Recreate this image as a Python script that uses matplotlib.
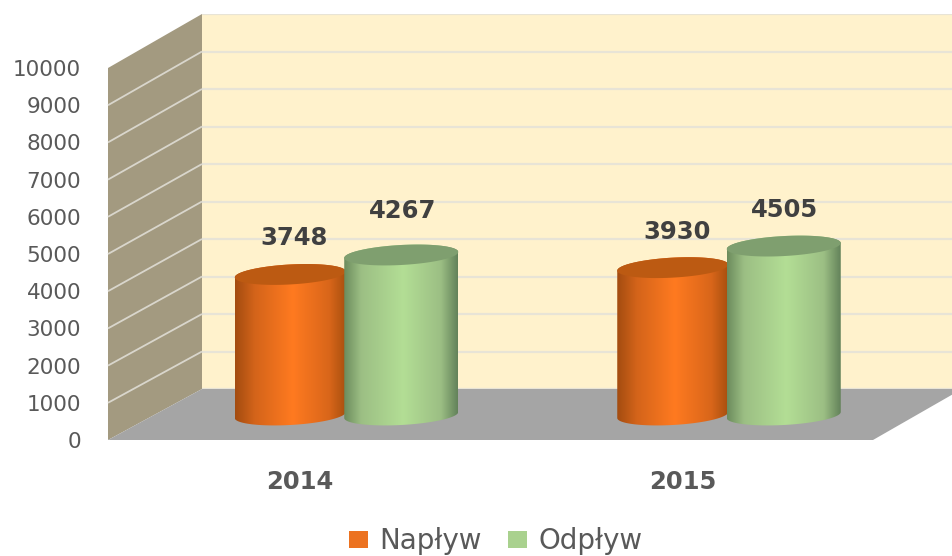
#!/bin/env python3
import numpy as np
import matplotlib
matplotlib.use("Agg")
import matplotlib.pyplot as plt
from matplotlib.colors import LinearSegmentedColormap
from matplotlib.patches import Patch, Polygon

W, H = 952, 556

categories = ["2014", "2015"]
series_names = ["Napływ", "Odpływ"]
naplyw = [3748, 3930]
odplyw = [4267, 4505]
ticks = list(range(0, 10001, 1000))
# label offset from the cylinder top, in px (hand placed in the original)
label_dy = [[36, 36], [44, 36]]
label_dx = [4, 1]

fig = plt.figure(figsize=(W / 100, H / 100), dpi=100, facecolor="white")


def px_axes(x0, x1, ytop, ybot):
    "axes given by its box in picture pixels"
    return fig.add_axes([x0 / W, 1 - ybot / H, (x1 - x0) / W, (ybot - ytop) / H])


# back wall
back = px_axes(202, 962, 14, 389)
back.set_facecolor("#FFF2CC")
back.set_xlim(0, 1)
back.set_ylim(0, 10000)
back.set_yticks(ticks)
back.set_xticks([])
back.tick_params(length=0, labelleft=False)
back.grid(axis="y", color="#E8E4D6", lw=1.6)
for s in back.spines.values():
    s.set_visible(False)

# side wall and floor, in pixels
room = fig.add_axes([0, 0, 1, 1])
room.set_xlim(0, W)
room.set_ylim(H, 0)
room.axis("off")
room.patch.set_alpha(0)
room.add_patch(Polygon([(108, 68), (202, 14), (202, 389), (108, 440)], fc="#A39A80", ec="none"))
room.add_patch(Polygon([(108, 440), (202, 389), (962, 389), (873, 440)], fc="#A5A5A5", ec="none"))
for t in ticks[1:-1]:
    yf = 440 - t / 10000 * 372
    yb = 389 - t / 10000 * 375
    room.plot([108, 202], [yf, yb], color="#D9D6CC", lw=1.3, solid_capstyle="butt")

# front plane: holds the value and category ticks
front = px_axes(109, 874, 68, 440)
front.patch.set_alpha(0)
front.set_xlim(-0.5, 1.5)
front.set_ylim(0, 10000)
front.set_yticks(ticks)
front.set_xticks([0, 1], categories)
front.tick_params(axis="y", length=0, pad=20, labelsize=15.5, labelcolor="#595959")
front.tick_params(axis="x", length=0, pad=21.5, labelsize=17.5, labelcolor="#595959")
for lab in front.get_xticklabels():
    lab.set_fontweight("bold")
for s in front.spines.values():
    s.set_visible(False)

# cylinders stand on a plane between the front and the back wall
ax = px_axes(155, 920, 40, 460)
ax.patch.set_alpha(0)
ax.axis("off")
XMIN, XMAX = -0.5, 1.5
SX = 765 / (XMAX - XMIN)  # px per category
SY = 375 / 10000  # px per unit of value
B = 10  # ellipse half height, px
RISE = 3  # ellipses rise to the right, px


def ellipse(cx, half, val, t):
    x = cx + half * np.cos(t)
    y = val + (B * np.sin(t) + RISE * np.cos(t)) / SY
    return x, y


def cylinder(cx, half, val, stops, top_color, z):
    t_low = np.linspace(np.pi, 2 * np.pi, 60)
    t_up = np.linspace(0, np.pi, 60)
    xb, yb = ellipse(cx, half, 0, t_low)
    xt, yt = ellipse(cx, half, val, t_up)
    body = Polygon(np.column_stack([np.r_[xb, xt], np.r_[yb, yt]]), transform=ax.transData, fc="none", ec="none")
    ax.add_patch(body)
    cmap = LinearSegmentedColormap.from_list("cyl", stops)
    grad = np.linspace(0, 1, 256)[None, :]
    im = ax.imshow(grad, cmap=cmap, aspect="auto", zorder=z, interpolation="bilinear",
        extent=[cx - half, cx + half, -1000, val + 1000])
    im.set_clip_path(body)
    t = np.linspace(0, 2 * np.pi, 120)
    xc, yc = ellipse(cx, half, val, t)
    ax.add_patch(Polygon(np.column_stack([xc, yc]), fc=top_color, ec="none", zorder=z + 0.1))


orange = [(0, "#A34C10"), (0.18, "#D4641A"), (0.52, "#FF7A20"), (0.85, "#D9661A"), (1, "#A9500F")]
green = [(0, "#6C8C5D"), (0.15, "#9CBF84"), (0.52, "#B3DE95"), (0.85, "#9CBF84"), (1, "#63825A")]
styles = [
    (orange, "#BC5A12", naplyw, -56 / SX, 55.5 / SX),
    (green, "#7F9F6F", odplyw, 55 / SX, 57 / SX),
]

for i in range(len(categories)):
    for j, (stops, top, vals, off, half) in enumerate(styles):
        cx = i + off
        cylinder(cx, half, vals[i], stops, top, 3 + j)
        ax.annotate(str(vals[i]), (cx, vals[i]), xytext=(label_dx[j] * 0.72, label_dy[j][i] * 0.72),
            textcoords="offset points", ha="center", va="center", fontsize=17.5, fontweight="bold",
            color="#404040", zorder=10)

ax.set_xlim(XMIN, XMAX)
ax.set_ylim(-45 / SY, 375 / SY)

handles = [Patch(fc="#EC7220", ec="none"), Patch(fc="#A9D18E", ec="none")]
fig.legend(handles, series_names, loc="center", bbox_to_anchor=(496 / W, 1 - 541 / H), ncol=2, frameon=False,
    fontsize=20, labelcolor="#595959", handlelength=0.66, handleheight=0.55, handletextpad=0.42,
    columnspacing=0.95, borderpad=0)

fig.savefig("out.png", dpi=100)
